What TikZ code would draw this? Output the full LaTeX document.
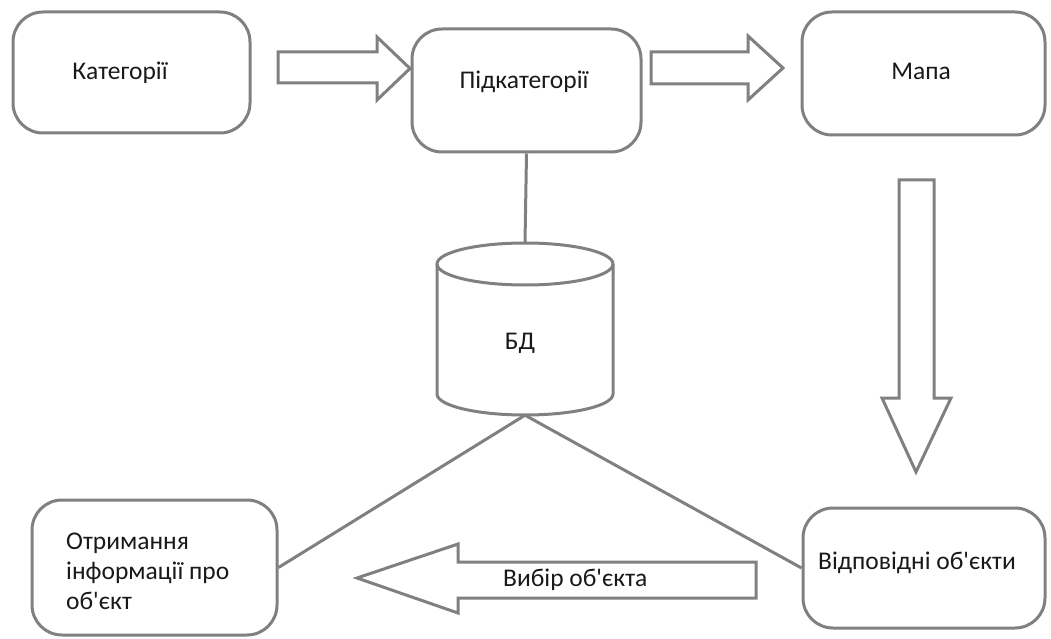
\documentclass[tikz,border=0pt]{standalone}
\usepackage{fontspec}
\setmainfont{Carlito}[Ligatures=TeXOff]
\definecolor{edge}{RGB}{128,128,128}
\definecolor{ink}{RGB}{25,25,25}
\tikzset{
  line/.style={draw=edge, line width=3pt},
  box/.style={line, rounded corners=30pt, inner sep=0pt},
  blockarrow/.style={line, fill=white, line join=miter},
  lbl/.style={text=ink, font=\fontsize{25.5}{30}\selectfont, inner sep=0pt, anchor=mid}
}
\begin{document}
\begin{tikzpicture}[x=1pt, y=-1pt]
\useasboundingbox (0,0) rectangle (1051,639);

% process boxes
\node[box, minimum width=237pt, minimum height=121pt] (cat)  at (131.5,72.5) {};
\node[box, minimum width=229pt, minimum height=123pt] (sub)  at (526.5,90.5) {};
\node[box, minimum width=243pt, minimum height=123pt] (map)  at (923.5,73.5) {};
\node[box, minimum width=245pt, minimum height=135pt] (info) at (154.5,567.5) {};
\node[box, minimum width=242pt, minimum height=120pt] (objs) at (924,568) {};

% database cylinder
\node[inner sep=0pt, minimum width=176pt, minimum height=172pt] (db) at (525,329) {};
\draw[line] (525,264) ellipse [x radius=88pt, y radius=21pt];
\draw[line] (437,264) -- (437,394) arc[start angle=180, end angle=360, x radius=88pt, y radius=21pt] -- (613,264);

% labels
\node[lbl] (catT)  at (120,77) {Категорії};
\node[lbl] (subT)  at (524,86) {Підкатегорії};
\node[lbl] (mapT)  at (921,77) {Мапа};
\node[lbl] (dbT)   at (520,347) {БД};
\node[lbl] (objsT) at (917,567) {Відповідні об'єкти};
\node[lbl, anchor=west, align=left] (infoT) at (66,571) {Отримання\\інформації про\\об'єкт};

% plain connectors to the database
\draw[line] (sub.south) -- (db.north);
\draw[line] (db.south) -- (info.east);
\draw[line] (db.south) -- (objs.west);

% block arrows
\draw[blockarrow] (278,52) -- (377,52) -- (377,37) -- (410,68.5) -- (377,100) -- (377,83) -- (278,83) -- cycle;
\draw[blockarrow] (651,52) -- (748,52) -- (748,36) -- (783,68) -- (748,100) -- (748,84) -- (651,84) -- cycle;
\draw[blockarrow] (899,180) -- (934,180) -- (934,398) -- (951,398) -- (916,472) -- (882,398) -- (899,398) -- cycle;
\draw[blockarrow] (756,562) -- (458,562) -- (458,544) -- (357,578) -- (458,613) -- (458,598) -- (756,598) -- cycle;
\node[lbl, anchor=mid west] (pickT) at (503,584) {Вибір об'єкта};
\end{tikzpicture}
\end{document}
